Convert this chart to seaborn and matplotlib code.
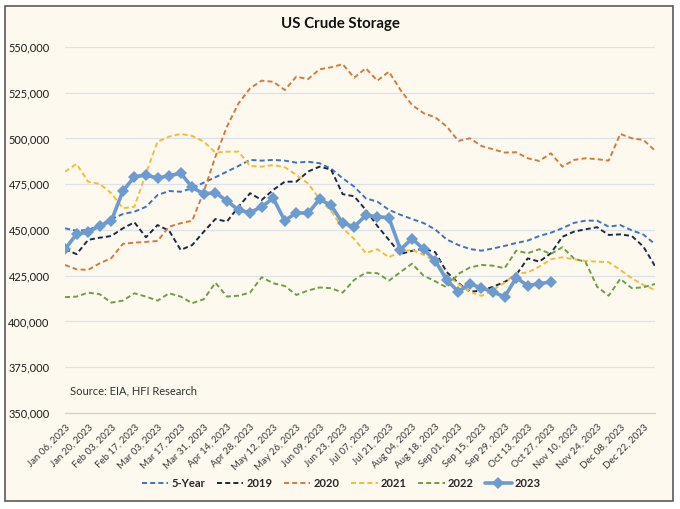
import numpy as np
import pandas as pd
import matplotlib
matplotlib.use("Agg")
import matplotlib.pyplot as plt
from matplotlib.patches import Rectangle
from matplotlib.ticker import FuncFormatter
import seaborn as sns

# ---------------- data (thousand barrels) ----------------
tick_labels = ["Jan 06, 2023", "Jan 20, 2023", "Feb 03, 2023", "Feb 17, 2023", "Mar 03, 2023",
               "Mar 17, 2023", "Mar 31, 2023", "Apr 14, 2023", "Apr 28, 2023", "May 12, 2023",
               "May 26, 2023", "Jun 09, 2023", "Jun 23, 2023", "Jul 07, 2023", "Jul 21, 2023",
               "Aug 04, 2023", "Aug 18, 2023", "Sep 01, 2023", "Sep 15, 2023", "Sep 29, 2023",
               "Oct 13, 2023", "Oct 27, 2023", "Nov 10, 2023", "Nov 24, 2023", "Dec 08, 2023",
               "Dec 22, 2023"]

five_year = [450.9, 449.6, 450.0, 452.7, 455.9, 458.7, 460.0, 462.7, 469.1, 471.3,
             470.9, 472.8, 475.9, 478.8, 481.9, 485.0, 488.3, 487.9, 488.3, 487.9,
             486.8, 487.3, 486.5, 483.5, 478.3, 473.7, 467.3, 465.5, 461.0, 458.3,
             456.0, 453.8, 450.3, 444.8, 441.8, 439.6, 438.7, 439.9, 441.3, 442.9,
             444.2, 446.7, 448.5, 451.0, 453.9, 455.1, 455.1, 451.8, 452.7, 449.8,
             447.5, 442.3]

y2019 = [439.5, 436.8, 444.6, 445.8, 446.7, 450.9, 454.2, 446.0, 452.7, 449.6,
         439.1, 441.8, 449.1, 456.0, 454.6, 462.7, 470.1, 466.4, 471.9, 476.4,
         476.4, 481.9, 484.6, 483.0, 469.6, 468.4, 461.0, 452.2, 444.6, 436.9,
         438.6, 439.8, 437.9, 427.0, 421.0, 416.3, 416.8, 419.0, 421.6, 425.4,
         434.5, 432.7, 437.3, 446.3, 449.1, 450.4, 451.5, 447.3, 447.6, 446.7,
         440.9, 430.3]

y2020 = [430.9, 428.5, 428.2, 431.8, 434.6, 442.4, 443.1, 443.5, 444.0, 451.8,
         453.7, 455.1, 471.0, 490.0, 506.5, 519.2, 527.4, 531.6, 531.0, 526.5,
         533.8, 532.4, 537.8, 538.9, 540.6, 533.2, 538.4, 531.6, 536.5, 526.5,
         518.3, 513.8, 511.6, 506.5, 498.7, 500.1, 495.9, 494.1, 492.3, 492.5,
         489.2, 487.7, 491.9, 484.6, 488.3, 489.2, 488.7, 487.9, 502.5, 500.1,
         499.2, 493.4]

y2021 = [481.9, 486.1, 476.4, 475.2, 470.1, 461.9, 462.7, 481.0, 498.3, 501.0,
         502.5, 501.4, 498.3, 492.3, 492.8, 492.8, 485.0, 484.6, 485.5, 484.3,
         480.1, 475.5, 467.0, 460.4, 451.0, 445.1, 437.4, 439.5, 435.1, 438.2,
         439.1, 436.4, 432.7, 425.5, 420.5, 416.3, 414.0, 417.2, 421.2, 426.4,
         426.7, 430.0, 434.0, 435.1, 434.0, 433.1, 432.7, 432.4, 428.2, 423.6,
         420.0, 417.2]

y2022 = [413.3, 413.6, 415.8, 414.9, 410.3, 411.4, 415.4, 413.6, 411.4, 415.4,
         413.6, 410.0, 412.2, 421.2, 413.6, 414.1, 415.8, 424.2, 420.9, 419.4,
         414.5, 416.9, 418.6, 418.2, 415.8, 422.7, 426.7, 426.4, 422.3, 427.0,
         431.6, 425.0, 422.0, 418.6, 426.0, 429.5, 430.9, 430.5, 429.1, 438.7,
         437.3, 439.5, 436.9, 440.6, 434.4, 432.5, 419.0, 414.1, 423.3, 418.2,
         418.7, 420.5]

y2023 = [439.5, 447.8, 448.8, 452.4, 454.9, 471.3, 479.1, 480.0, 478.3, 479.7,
         481.0, 473.3, 469.7, 470.4, 465.9, 460.9, 459.5, 462.7, 467.3, 455.1,
         459.5, 459.1, 466.8, 463.5, 453.7, 451.8, 458.0, 457.3, 456.7, 439.3,
         445.3, 439.5, 433.2, 422.7, 416.3, 420.6, 418.3, 416.2, 413.4, 423.9,
         419.6, 420.7, 421.6]

series_names = ["5-Year", "2019", "2020", "2021", "2022", "2023"]
series_vals = [five_year, y2019, y2020, y2021, y2022, y2023]

# ---------------- style ----------------
sns.set_style("white")
plt.rcParams["font.family"] = ["Lato", "DejaVu Sans"]

cream = "#FDF9EF"
colors = {"5-Year": "#3E73C2", "2019": "#1B2A4A", "2020": "#D57A3E",
          "2021": "#F4BC3A", "2022": "#6E9F47", "2023": "#6C9BD2"}

fig = plt.figure(figsize=(6.8, 5.09), dpi=100, facecolor="white")
fig.patches.append(Rectangle((0.0074, 0.0157), 0.982, 0.9725, transform=fig.transFigure,
                             facecolor=cream, edgecolor="#5A5A5A", lw=1.2, zorder=-5))

ax = fig.add_axes([0.0956, 0.1886, 0.8676, 0.7191])
ax.set_facecolor("none")

for name, vals in zip(series_names, series_vals):
    df = pd.DataFrame({"week": np.arange(len(vals)), "value": np.array(vals) * 1000})
    if name == "2023":
        sns.lineplot(data=df, x="week", y="value", ax=ax, color=colors[name], lw=2.6,
                     marker="D", markersize=6, markeredgewidth=0, label=name, zorder=5)
    else:
        sns.lineplot(data=df, x="week", y="value", ax=ax, color=colors[name], lw=1.4,
                     linestyle=(0, (2.6, 1.6)), label=name, zorder=3)

if ax.get_legend() is not None:
    ax.get_legend().remove()

ax.set_xlim(0, 51)
ax.set_ylim(350000, 550000)
ax.set_yticks(np.arange(350000, 550001, 25000))
ax.yaxis.set_major_formatter(FuncFormatter(lambda v, p: f"{int(v):,}"))
ax.grid(axis="y", color="#DDE2EA", lw=0.9)
ax.set_axisbelow(True)
for s in ["top", "right", "left"]:
    ax.spines[s].set_visible(False)
ax.spines["bottom"].set_color("#D0D0D0")
ax.spines["bottom"].set_linewidth(0.9)

ax.set_xticks(np.arange(0, 52, 2))
ax.set_xticklabels(tick_labels, rotation=45, ha="right", rotation_mode="anchor",
                   fontsize=7.0, color="#3A3A3A")
ax.tick_params(axis="x", length=3, color="#C8C8C8", pad=4)
ax.tick_params(axis="y", length=0, pad=11, labelsize=7.9, labelcolor="#1A1A1A")
ax.set_xlabel("")
ax.set_ylabel("")

fig.text(0.5, 0.953, "US Crude Storage", ha="center", va="center",
         fontsize=10.8, fontweight="bold", color="#111111")
ax.text(0.008, 0.06, "Source: EIA, HFI Research", transform=ax.transAxes,
        fontsize=8, color="#333333", ha="left", va="center")

handles, labels = ax.get_legend_handles_labels()
fig.legend(handles, labels, loc="center", bbox_to_anchor=(0.502, 0.051), ncol=6,
           frameon=False, handlelength=2.4, handletextpad=0.3, columnspacing=1.0,
           prop={"weight": "bold", "size": 8.0})

fig.savefig("out.png", dpi=100, facecolor="white")
